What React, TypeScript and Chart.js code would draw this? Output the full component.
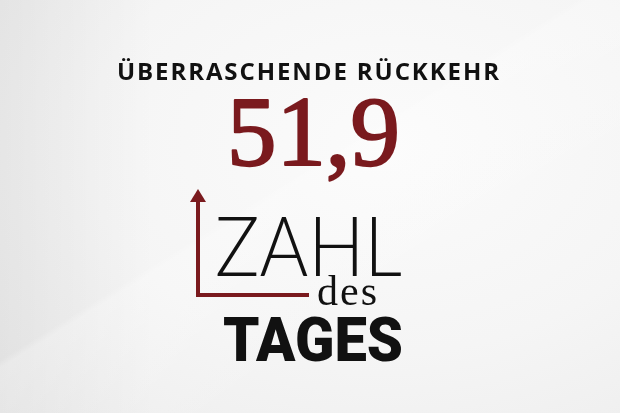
import React, { useEffect, useRef } from 'react';
import { Chart, registerables } from 'chart.js';

Chart.register(...registerables);

// Text content of the card
const headline = 'ÜBERRASCHENDE RÜCKKEHR';
const valueLabel = '51,9';
const titleWords = ['ZAHL', 'des', 'TAGES'];

const darkRed = '#7a1a1e';

// fits a line of text to a target width: extra spacing if narrow, squeeze if wide
function drawFitted(ctx: CanvasRenderingContext2D, text: string, x: number, y: number, width: number, stroke = 0) {
	ctx.save();
	(ctx as any).letterSpacing = '0px';
	const w = ctx.measureText(text).width;
	if (w < width && text.length > 1) {
		const gap = (width - w) / (text.length - 1);
		(ctx as any).letterSpacing = gap + 'px';
	} else {
		ctx.translate(x, y);
		ctx.scale(width / w, 1);
		x = 0;
		y = 0;
	}
	ctx.fillText(text, x, y);
	if (stroke) {
		ctx.lineWidth = stroke;
		ctx.lineJoin = 'round';
		ctx.strokeStyle = ctx.fillStyle;
		ctx.strokeText(text, x, y);
	}
	ctx.restore();
}

const textPlugin = {
	id: 'cardText',
	afterDraw(chart: Chart) {
		const ctx = chart.ctx;
		const area = chart.chartArea;
		ctx.save();
		ctx.textBaseline = 'alphabetic';
		ctx.textAlign = 'left';

		// arrow head on top of the y axis
		ctx.fillStyle = darkRed;
		ctx.beginPath();
		ctx.moveTo(area.left, area.top - 12);
		ctx.lineTo(area.left - 8, area.top + 1);
		ctx.lineTo(area.left + 8, area.top + 1);
		ctx.closePath();
		ctx.fill();

		ctx.fillStyle = '#111';
		ctx.font = 'bold 24px "Open Sans", Roboto, sans-serif';
		drawFitted(ctx, headline, 117, 80, 382);

		ctx.fillStyle = darkRed;
		ctx.font = '100px "Liberation Serif", "DejaVu Serif", serif';
		drawFitted(ctx, valueLabel, 227, 165, 173, 2.2);

		ctx.fillStyle = '#111';
		ctx.font = '300 82px Lato, "Open Sans", sans-serif';
		drawFitted(ctx, titleWords[0], 215, 276, 187);

		ctx.font = '42px "Liberation Serif", "DejaVu Serif", serif';
		drawFitted(ctx, titleWords[1], 317, 305, 60);

		ctx.font = '900 62px Roboto, "Noto Sans", sans-serif';
		drawFitted(ctx, titleWords[2], 223, 361, 180);
		ctx.restore();
	},
};

const App: React.FC = () => {
	const canvasRef = useRef<HTMLCanvasElement | null>(null);
	const chartRef = useRef<Chart | null>(null);

	useEffect(() => {
		const canvas = canvasRef.current;
		if (!canvas) return;
		const ctx = canvas.getContext('2d');
		if (!ctx) return;

		if (chartRef.current) {
			chartRef.current.destroy();
		}

		// the two axis borders make the red L-shaped arrow
		const axis = {
			type: 'linear' as const,
			min: 0,
			max: 1,
			grid: { display: false, drawTicks: false },
			ticks: { display: false },
			border: { display: true, color: darkRed, width: 4 },
		};

		chartRef.current = new Chart(ctx, {
			type: 'line',
			data: { datasets: [] },
			options: {
				animation: false,
				responsive: true,
				maintainAspectRatio: false,
				layout: { padding: { left: 198, right: 312, top: 201, bottom: 118 } },
				plugins: { legend: { display: false }, tooltip: { enabled: false } },
				scales: { x: axis, y: axis },
			},
			plugins: [textPlugin],
		});

		return () => {
			if (chartRef.current) {
				chartRef.current.destroy();
				chartRef.current = null;
			}
		};
	}, []);

	return (
		<div
			style={{
				position: 'fixed',
				left: 0,
				top: 0,
				width: 620,
				height: 413,
				overflow: 'hidden',
				background:
					'linear-gradient(148deg, rgba(255,255,255,0) 0%, rgba(255,255,255,0) 45%, rgba(255,255,255,0.25) 46%, rgba(255,255,255,0) 70%),' +
					'linear-gradient(90deg, rgba(0,0,0,0.05) 0%, rgba(0,0,0,0) 25%),' +
					'radial-gradient(ellipse at 62% 35%, #fbfbfb 0%, #f5f5f5 55%, #ececec 100%)',
			}}
		>
			<canvas ref={canvasRef} />
		</div>
	);
};

export default App;
